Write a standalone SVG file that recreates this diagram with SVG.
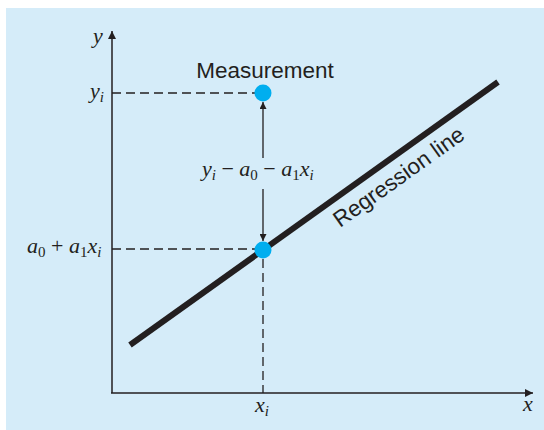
<svg xmlns="http://www.w3.org/2000/svg" width="544" height="430" viewBox="0 0 544 430">
<defs>
<marker id="ah" viewBox="0 0 10 10" refX="10" refY="5" markerWidth="9" markerHeight="8" markerUnits="userSpaceOnUse" orient="auto">
<path d="M0,0 L10,5 L0,10 z" fill="#231f20"/>
</marker>
<marker id="ahs" viewBox="0 0 10 10" refX="10" refY="5" markerWidth="9" markerHeight="7" markerUnits="userSpaceOnUse" orient="auto">
<path d="M0,0 L10,5 L0,10 z" fill="#231f20"/>
</marker>
</defs>
<style>
.axis{stroke:#231f20;stroke-width:1.5;fill:none}
.dash{stroke:#231f20;stroke-width:1.3;stroke-dasharray:9,5;fill:none}
.arr{stroke:#231f20;stroke-width:1.3;fill:none}
.math{font-family:"Liberation Serif","Times New Roman",serif;font-style:italic;font-size:22px;fill:#231f20}
.sub{font-size:15px}
.up{font-style:normal}
.sans{font-family:"Liberation Sans",Arial,sans-serif;font-size:22.5px;fill:#231f20}
.pt{fill:#00aeef}
</style>
<rect x="6" y="8" width="538" height="422" fill="#d5ecf9"/>
<g id="connectors">
<line class="axis" x1="112" y1="393" x2="112" y2="31" marker-end="url(#ah)"/>
<line class="axis" x1="111" y1="393" x2="533" y2="393" marker-end="url(#ah)"/>
<line class="dash" x1="112" y1="93" x2="255" y2="93"/>
<line class="dash" x1="112" y1="249" x2="255" y2="249"/>
<line class="dash" x1="263" y1="259" x2="263" y2="393"/>
<line class="arr" x1="263" y1="158" x2="263" y2="102" marker-end="url(#ahs)"/>
<line class="arr" x1="263" y1="189" x2="263" y2="241" marker-end="url(#ahs)"/>
</g>
<g id="regression-line">
<line x1="130" y1="345" x2="498" y2="82" stroke="#231f20" stroke-width="6"/>
<text class="sans" transform="translate(340,228) rotate(-35.5)">Regression line</text>
</g>
<g id="measurement">
<circle class="pt" cx="263" cy="93" r="8.5"/>
<text class="sans" x="265" y="78" text-anchor="middle">Measurement</text>
</g>
<g id="fitted-point">
<circle class="pt" cx="263" cy="250" r="8.5"/>
</g>
<g id="labels">
<text class="math" x="93" y="43">y</text>
<text class="math" x="90" y="98">y<tspan class="sub" dy="4">i</tspan></text>
<text class="math" x="27" y="253">a<tspan class="sub up" dy="4">0</tspan><tspan class="up" dy="-4"> + </tspan>a<tspan class="sub up" dy="4">1</tspan><tspan dy="-4">x</tspan><tspan class="sub" dy="4">i</tspan></text>
<text class="math" x="202" y="176">y<tspan class="sub" dy="4">i</tspan><tspan class="up" dy="-4"> − </tspan>a<tspan class="sub up" dy="4">0</tspan><tspan class="up" dy="-4"> − </tspan>a<tspan class="sub up" dy="4">1</tspan><tspan dy="-4">x</tspan><tspan class="sub" dy="4">i</tspan></text>
<text class="math" x="255" y="412">x<tspan class="sub" dy="4">i</tspan></text>
<text class="math" x="523" y="411">x</text>
</g>
</svg>
